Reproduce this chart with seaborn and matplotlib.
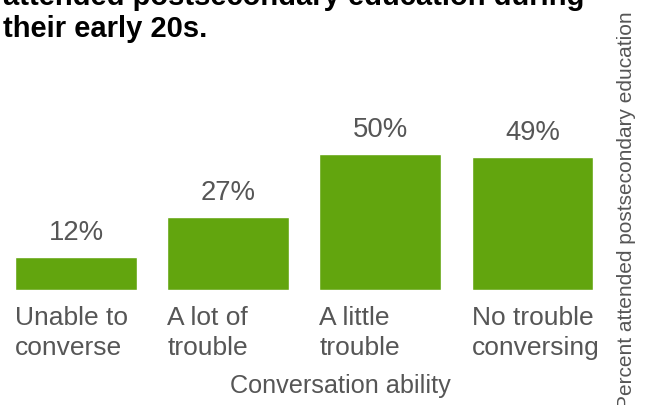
import matplotlib
matplotlib.use("Agg")
import matplotlib.pyplot as plt
import seaborn as sns

categories = ["Unable to\nconverse", "A lot of\ntrouble", "A little\ntrouble", "No trouble\nconversing"]
values = [12, 27, 50, 49]
value_labels = ["12%", "27%", "50%", "49%"]
title_lines = ["attended postsecondary education during", "their early 20s."]
xlabel = "Conversation ability"
ylabel = "Percent attended postsecondary education"

sns.set_style("white")
plt.rcParams['font.family'] = ['Liberation Sans', 'DejaVu Sans']

bar_color = "#62a50e"
gray = "#565656"

W, H = 653, 406
fig = plt.figure(figsize=(W / 100, H / 100), dpi=100)
ax = fig.add_axes([0, 115 / H, 608.5 / W, 291 / H])

sns.barplot(x=list(range(len(values))), y=values, color=bar_color,
            saturation=1, width=0.8, ax=ax)
ax.set_xlim(-0.5, 3.5)
ax.set_ylim(0, 107)
ax.axis("off")

px = 107 / 291  # data units per pixel

for i, v in enumerate(values):
    ax.text(i, v + 18 * px, value_labels[i], ha="center", va="baseline",
            fontsize=19.8, color=gray, clip_on=False)
    # baseline of the last line
    ax.text(i - 0.4, -64 * px, categories[i], ha="left", va="baseline",
            fontsize=19, color=gray, linespacing=1.32, clip_on=False)

# title (top line is cut by the frame in the original)
fig.text(3 / W, 1 - 5 / H, title_lines[0], ha="left", va="baseline",
         fontsize=21, fontweight="bold", color="black")
fig.text(3 / W, 1 - 37 / H, title_lines[1], ha="left", va="baseline",
         fontsize=21, fontweight="bold", color="black")

fig.text(340 / W, 13 / H, xlabel, ha="center", va="baseline",
         fontsize=18.2, color=gray)
fig.text(626 / W, 1 - 210 / H, ylabel, ha="center", va="center",
         rotation=90, fontsize=15, color=gray)

fig.savefig("out.png", dpi=100)
